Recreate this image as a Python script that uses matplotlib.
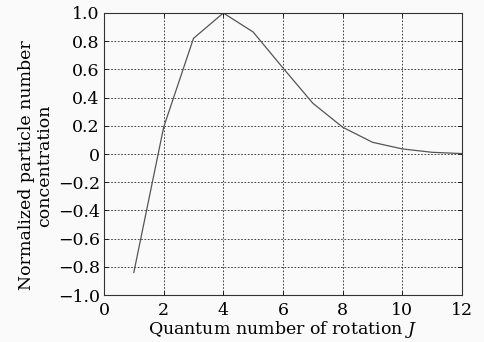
import numpy as np
import matplotlib
matplotlib.use('Agg')
import matplotlib.pyplot as plt

# rotational quantum number and normalized concentration
J = [1, 2, 3, 4, 5, 6, 7, 8, 9, 10, 11, 12]
conc = [-0.84, 0.19, 0.82, 1.0, 0.865, 0.61, 0.36, 0.19, 0.083, 0.036, 0.012, 0.003]

xticks = [0, 2, 4, 6, 8, 10, 12]
yticks = [-1.0, -0.8, -0.6, -0.4, -0.2, 0, 0.2, 0.4, 0.6, 0.8, 1.0]
yticklabels = ['\u22121.0', '\u22120.8', '\u22120.6', '\u22120.4', '\u22120.2', '0',
               '0.2', '0.4', '0.6', '0.8', '1.0']

plt.rcParams['font.family'] = ['DejaVu Serif']
plt.rcParams['mathtext.fontset'] = 'dejavuserif'

fig = plt.figure(figsize=(4.85, 3.42), dpi=100, facecolor='#fafafa')
ax = fig.add_axes([0.2144, 0.1374, 0.7382, 0.8246])
ax.set_facecolor('#fafafa')

ax.plot(J, conc, color='#555555', lw=0.9)

ax.set_xlim(0, 12)
ax.set_ylim(-1, 1)
ax.set_xticks(xticks)
ax.set_yticks(yticks)
ax.set_yticklabels(yticklabels)
ax.grid(True, color='#222222', linestyle=(0, (2, 2)), lw=0.6)
ax.tick_params(direction='in', length=3, width=0.6, labelsize=12.5,
               top=True, right=True)
ax.tick_params(axis='y', pad=3)
ax.tick_params(axis='x', pad=5)
for s in ax.spines.values():
    s.set_linewidth(0.8)
    s.set_color('#333333')

ax.set_xlabel('Quantum number of rotation $J$', fontsize=12.5, labelpad=0)
ax.set_ylabel('Normalized particle number\nconcentration', fontsize=12.5,
              labelpad=3, linespacing=1.15, y=0.46)

fig.savefig('out.png', dpi=100, facecolor=fig.get_facecolor())
